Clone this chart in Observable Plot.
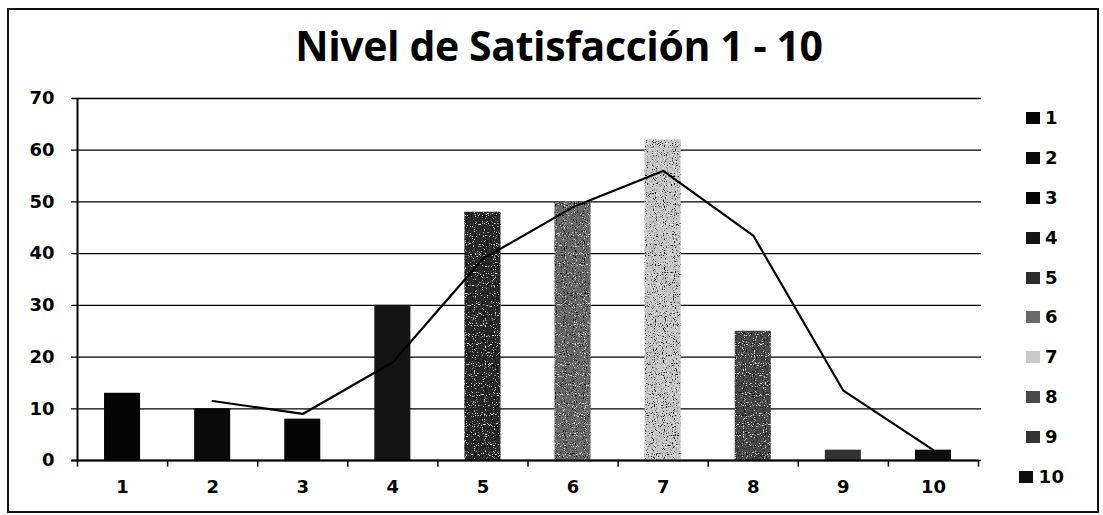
<!DOCTYPE html>
<html><head><meta charset="utf-8">
<script src="https://cdn.jsdelivr.net/npm/d3@7"></script>
<script src="https://cdn.jsdelivr.net/npm/@observablehq/plot@0.6"></script>
<style>
body{margin:0;background:#fff;}
#wrap{position:relative;width:1103px;height:515px;overflow:hidden;font-family:"DejaVu Sans",Verdana,sans-serif;}
#frame{position:absolute;left:7px;top:8px;width:1092px;height:505px;border:2px solid #111;box-sizing:border-box;}
#title{position:absolute;left:0;top:19px;width:1118px;text-align:center;font-family:"Open Sans",Lato,sans-serif;font-weight:bold;font-size:41px;line-height:52px;color:#000;letter-spacing:-0.4px;}
#legend{position:absolute;left:1000px;width:84px;top:107px;}
.li{height:39.9px;display:flex;justify-content:center;align-items:flex-start;font-weight:bold;font-size:18px;line-height:22px;letter-spacing:0.5px;}
.sw{width:14px;height:12px;margin-right:5px;margin-top:5px;}
#chart{position:absolute;left:0;top:0;}
#chart svg text{font-size:18px !important;font-weight:bold;font-family:"DejaVu Sans",Verdana,sans-serif;}
#fx{position:absolute;width:0;height:0;}
</style></head>
<body><div id="wrap"><div id="frame"></div><div id="title"></div><div id="chart"></div><div id="legend"></div></div>
<svg id="fx"><defs>
<filter id="speckle" x="0" y="0" width="1" height="1">
<feTurbulence type="fractalNoise" baseFrequency="0.9" numOctaves="1" seed="3" result="n"/>
<feColorMatrix in="n" type="matrix" values="0 0 0 0 0  0 0 0 0 0  0 0 0 0 0  -8 0 0 0 3.6" result="dk"/>
<feColorMatrix in="n" type="matrix" values="0 0 0 0 1  0 0 0 0 1  0 0 0 0 1  0 8 0 0 -5.0" result="lt"/>
<feComposite in="dk" in2="SourceGraphic" operator="in" result="dk2"/>
<feComposite in="lt" in2="SourceGraphic" operator="in" result="lt2"/>
<feMerge><feMergeNode in="SourceGraphic"/><feMergeNode in="dk2"/><feMergeNode in="lt2"/></feMerge>
</filter></defs></svg>
<script>
const titleText = "Nivel de Satisfacción 1 - 10";
const categories = ["1","2","3","4","5","6","7","8","9","10"];
const barValues = [13, 10, 8, 30, 48, 50, 62, 25, 2, 2];
const trendCategories = ["2","3","4","5","6","7","8","9","10"];
const trendValues = [11.5, 9, 19, 39, 49, 56, 43.5, 13.5, 2];
const barColors = ["#050505","#0a0a0a","#050505","#141414","#2c2c2c","#6a6a6a","#c9c9c9","#4a4a4a","#333333","#0d0d0d"];
const texturedBars = ["5","6","7","8"];
const yTicks = [0,10,20,30,40,50,60,70];

document.getElementById("title").textContent = titleText;

const bars = categories.map((c,i)=>({cat:c, v:barValues[i], color:barColors[i]}));
const trend = trendCategories.map((c,i)=>({cat:c, v:trendValues[i]}));

const L = 77, R = 978;
const step = (R-L)/10;
const chart = Plot.plot({
  width:1103, height:515,
  marginLeft:L, marginRight:1103-R, marginTop:98, marginBottom:55,
  style:{fontFamily:"'DejaVu Sans',Verdana,sans-serif", fontSize:"18px", fontWeight:"bold", color:"#000", background:"transparent", overflow:"visible"},
  x:{domain:categories, paddingInner:0.6, paddingOuter:0.3, round:false, label:null},
  y:{domain:[0,70], ticks:yTicks, label:null},
  marks:[
    Plot.gridY(yTicks,{stroke:"#000", strokeOpacity:1, strokeWidth:1.3, insetLeft:-6, insetRight:-3}),
    Plot.barY(bars,{x:"cat", y:"v", fill:"color"}),
    Plot.line(trend,{x:"cat", y:"v", stroke:"#000", strokeWidth:2.2}),
    Plot.ruleX(categories,{x:d=>d, y1:0, y2:-1.3, dx:-step/2, stroke:"#000", strokeWidth:1.5}),
    Plot.ruleX([categories[categories.length-1]],{x:d=>d, y1:0, y2:-1.3, dx:step/2, stroke:"#000", strokeWidth:1.5}),
    Plot.axisY({ticks:yTicks, tickSize:0, tickPadding:23, fontWeight:"bold", fontSize:18}),
    Plot.axisX({tickSize:0, tickPadding:20, fontWeight:"bold", fontSize:18}),
    Plot.ruleY([0],{stroke:"#000", strokeWidth:2, insetLeft:-6}),
    Plot.ruleX([categories[0]],{x:d=>d, dx:-step/2, stroke:"#000", strokeWidth:2, y1:0, y2:70})
  ]
});
document.getElementById("chart").appendChild(chart);
chart.querySelectorAll('g[aria-label="bar"] rect').forEach((r,i)=>{
  if (texturedBars.includes(categories[i])) r.setAttribute("filter","url(#speckle)");
});

const lg = document.getElementById("legend");
categories.forEach((c,i)=>{
  const row = document.createElement("div"); row.className="li";
  const sw = document.createElement("div"); sw.className="sw"; sw.style.background=barColors[i];
  const t = document.createElement("span"); t.textContent=c;
  row.appendChild(sw); row.appendChild(t); lg.appendChild(row);
});
</script></body></html>
